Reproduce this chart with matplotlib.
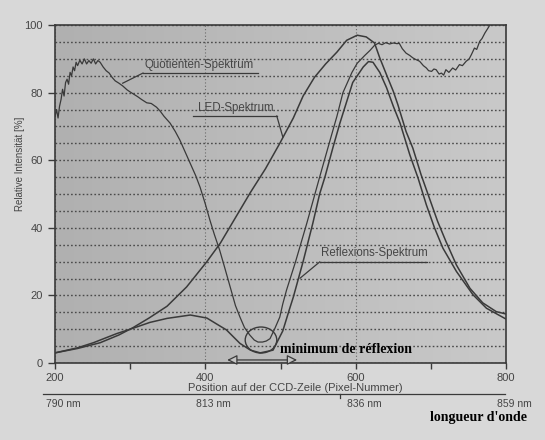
import numpy as np
import matplotlib
matplotlib.use("Agg")
import matplotlib.pyplot as plt
from matplotlib.patches import Ellipse

# ---------------- data ----------------
led_x = [200, 230, 260, 285, 304, 325, 349, 375, 402, 420, 440, 460, 480, 499, 517,
         530, 545, 560, 575, 588, 602, 614, 625, 632, 641, 650, 656, 667, 676, 687,
         698, 709, 720, 734, 752, 769, 787, 800]
led_y = [3, 4.3, 6, 8.3, 10.5, 13.3, 16.8, 22.5, 30, 35.5, 43, 50.5, 57.5, 65, 72.5,
         79, 84.5, 88.5, 92, 95.5, 97, 96.5, 94.7, 90.3, 85.3, 80.4, 76.5, 68.5, 63.6, 55.7,
         48.8, 41.9, 36, 29, 22.1, 17.8, 15.2, 14.5]

refl_x = [200, 230, 251, 282, 304, 326, 349, 380, 402, 419, 428, 446, 460, 473, 490,
          503, 512, 517, 530, 543, 552, 559, 570, 579, 596, 610, 617, 623, 632, 641,
          650, 659, 672, 683, 694, 705, 716, 734, 756, 774, 800]
refl_y = [3, 4.5, 6, 8.7, 10.3, 12, 13.2, 14.2, 13.3, 11, 9.8, 5.8, 3.8, 3, 3.8,
          9.5, 16, 19.5, 30, 41.4, 50, 55, 64, 71, 83, 87.6, 89.2, 89, 86, 81.5,
          76, 71, 61.6, 54.7, 46.8, 39.9, 34, 27.1, 20.2, 16.2, 13]

quot_x = [200, 202, 204, 206, 208, 210, 212, 214, 216, 218, 220, 222, 224, 226, 228,
          230, 233, 236, 239, 242, 245, 248, 251, 254, 257, 260, 264, 268, 272, 276,
          280, 285, 290, 296, 300, 305, 310, 315, 322, 328, 335, 340, 345, 353, 360,
          366, 373, 380, 387, 393, 400, 406, 412, 419, 426, 433, 440, 446, 452, 459,
          465, 470, 476, 481, 486, 492, 499, 503, 508, 520, 535, 552, 566, 575, 583,
          595, 602, 612, 619, 625, 630, 635, 640, 645, 650, 655, 658, 662, 667, 672,
          676, 680, 685, 690, 694, 697, 701, 704, 707, 711, 714, 717, 720, 724, 729,
          733, 738, 742, 747, 751, 754, 758, 761, 765, 768, 772, 776, 781]
quot_y = [73, 75, 72.5, 76, 78, 81, 79, 83, 84, 82.5, 86, 85, 87.6, 86.5, 89,
          88, 89.6, 88.5, 90, 88.5, 89.5, 88.7, 90, 88.5, 89.5, 89, 87.6, 86.5, 85.8, 84.5,
          83.5, 82.8, 82, 80.8, 80.2, 79.5, 78.8, 78, 77, 76.8, 75.7, 74.5, 73, 71, 68.5,
          66, 62.5, 59, 55.5, 52, 47, 42.3, 38, 33.4, 28, 22.5, 17, 13.6, 10.5, 8.3,
          6.8, 6.2, 6.2, 6.5, 7.2, 10, 13.6, 17.5, 21.6, 30, 41.4, 55, 66, 73, 80,
          86, 88.7, 91, 92.5, 94, 94.6, 94.2, 94.8, 94.4, 94.7, 94.5, 94.6, 93, 91.7, 91,
          90.3, 89.8, 89.3, 88, 87.3, 86.5, 86.3, 87, 86.8, 85.5, 85.8, 85.2, 86.8, 86, 87.3,
          86.7, 88.3, 88, 89.3, 90, 91.3, 93.2, 92.8, 95.2, 96, 97.7, 99.1, 101]

x_ticks = [200, 400, 600, 800]
x_minor = [300, 500, 700]
y_ticks = [0, 20, 40, 60, 80, 100]
wl_labels = ["790 nm", "813 nm", "836 nm", "859 nm"]

# ---------------- styling ----------------
plt.rcParams['font.family'] = ['Liberation Sans', 'DejaVu Sans']
fig_bg = '#d8d8d8'
ax_bg = '#c2c2c2'
ink = '#3a3a3a'
txt = '#454545'

fig = plt.figure(figsize=(5.45, 4.4), dpi=100, facecolor=fig_bg)
ax = fig.add_axes([0.101, 0.175, 0.8275, 0.768])
ax.set_facecolor(ax_bg)

# gradient background in the plot area (darker on the left)
grad = np.linspace(0, 1, 256).reshape(1, -1)
ax.imshow(grad, extent=[0, 1, 0, 1], transform=ax.transAxes, aspect='auto',
          cmap=matplotlib.colors.LinearSegmentedColormap.from_list('g', ['#b0b0b0', '#c9c9c9']),
          zorder=0)

ax.set_xlim(200, 800)
ax.set_ylim(0, 100)

ax.set_xticks(x_ticks)
ax.set_xticks(x_minor, minor=True)
ax.set_yticks(y_ticks)
ax.set_yticks(np.arange(0, 101, 5), minor=True)
ax.tick_params(axis='x', which='both', direction='out', length=4, width=1, color=ink,
               labelsize=8, labelcolor=txt, pad=3)
ax.tick_params(axis='y', which='major', direction='out', length=5, width=1, color=ink,
               labelsize=8, labelcolor=txt, pad=4)
ax.tick_params(axis='y', which='minor', length=0)

ax.grid(axis='y', which='both', linestyle=(0, (1.2, 1.6)), color='#4a4a4a', linewidth=1.0, zorder=1)
ax.grid(axis='x', which='major', linestyle=(0, (1, 2)), color='#6a6a6a', linewidth=0.8, zorder=1)
ax.set_axisbelow(True)
for s in ax.spines.values():
    s.set_color(ink)
    s.set_linewidth(1.2)

# curves
ax.plot(led_x, led_y, color=ink, lw=1.1, zorder=3)
ax.plot(refl_x, refl_y, color=ink, lw=1.1, zorder=3)
ax.plot(quot_x, quot_y, color=ink, lw=0.9, zorder=3)

# axis labels
ax.set_xlabel("Position auf der CCD-Zeile (Pixel-Nummer)", fontsize=8, color=txt)
ax.xaxis.set_label_coords(0.532, -0.073)
ax.xaxis.label.set_va('center')
ax.set_ylabel("Relative Intensität [%]", fontsize=7, color=txt)
ax.yaxis.set_label_coords(-0.078, 0.59)
ax.yaxis.label.set_va('center')

# curve labels with underline + leader
def curve_label(text, tx, ty, ux0, ux1, uy, lx, ly, lead_from):
    ax.text(tx, ty, text, fontsize=8.3, color=txt, ha='center', va='center', zorder=4)
    ax.plot([ux0, ux1], [uy, uy], color=ink, lw=0.9, zorder=4)
    sx = ux0 if lead_from == 'left' else ux1
    ax.plot([sx, lx], [uy, ly], color=ink, lw=0.9, zorder=4)

curve_label("Quotienten-Spektrum", 392, 88.2, 317, 470, 85.8, 290, 82.8, 'left')
curve_label("LED-Spektrum", 441, 75.6, 383, 495, 73.1, 503, 66.9, 'right')
curve_label("Reflexions-Spektrum", 625, 32.6, 552, 695, 29.9, 526, 25.1, 'left')

# minimum marker
ax.add_patch(Ellipse((474, 6.8), 42, 7.7, fill=False, ec=ink, lw=1.0, zorder=4))
ax.annotate('', xy=(429, 0.9), xytext=(522, 0.9),
            arrowprops=dict(arrowstyle='<|-|>', fc='#c4c4c4', ec=ink, lw=0.9,
                            mutation_scale=15, shrinkA=0, shrinkB=0), zorder=4)
ax.text(499, 4.1, "minimum de réflexion", fontsize=10, fontweight='bold', color='black',
        family=['Liberation Serif', 'DejaVu Serif'], ha='left', va='center', zorder=5)

# wavelength scale below
ax.plot([-0.027, 0.998], [-0.092, -0.092], transform=ax.transAxes, color=ink, lw=0.9,
        clip_on=False)
ax.plot([0.632, 0.632], [-0.092, -0.105], transform=ax.transAxes, color=ink, lw=0.9,
        clip_on=False)
for pos, lab in zip(x_ticks, wl_labels):
    ax.annotate(lab, xy=(pos, -0.121), xycoords=('data', 'axes fraction'),
                xytext=(6, 0), textcoords='offset points', ha='center', va='center',
                fontsize=7.5, color=txt, annotation_clip=False)

fig.text(0.789, 0.052, "longueur d'onde", fontsize=10, fontweight='bold', color='black',
         family=['Liberation Serif', 'DejaVu Serif'], ha='left', va='center')

fig.savefig("out.png", dpi=100, facecolor=fig_bg)
